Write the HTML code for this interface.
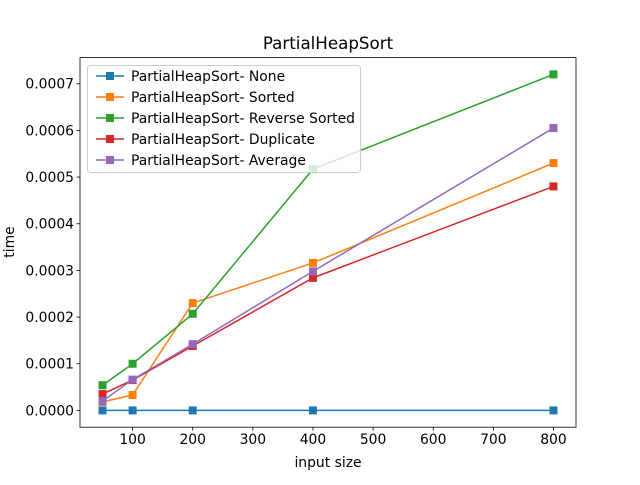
<!DOCTYPE html>
<html><head><meta charset="utf-8"><style>
body{margin:0;background:#fff}
svg{font-family:"DejaVu Sans","Liberation Sans",sans-serif}
</style></head><body>
<svg id="chart" width="640" height="480" xmlns="http://www.w3.org/2000/svg">
<rect width="640" height="480" fill="#fff"/>
<text x="328" y="49" font-size="16.7" text-anchor="middle">PartialHeapSort</text>
<g id="plot"></g>
<rect x="80" y="57.6" width="496" height="369.6" fill="none" stroke="#000" stroke-width="0.8"/>
<text x="328" y="467" font-size="13.9" text-anchor="middle">input size</text>
<text transform="translate(14,242) rotate(-90)" font-size="13.9" text-anchor="middle">time</text>
<g id="legend"></g>
</svg>
<script>
const xCats=[50,100,200,400,800];
const seriesNames=["PartialHeapSort- None","PartialHeapSort- Sorted","PartialHeapSort- Reverse Sorted","PartialHeapSort- Duplicate","PartialHeapSort- Average"];
const sNone=[0,0,0,0,0];
const sSorted=[0.000018,0.000033,0.00023,0.000316,0.00053];
const sReverse=[0.000054,0.0001,0.000207,0.000517,0.00072];
const sDuplicate=[0.000035,0.000065,0.000138,0.000284,0.00048];
const sAverage=[0.00002,0.000066,0.000142,0.000298,0.000605];
const xTicks=[100,200,300,400,500,600,700,800];
const yTicks=[0,0.0001,0.0002,0.0003,0.0004,0.0005,0.0006,0.0007];
const yTickLabels=["0.0000","0.0001","0.0002","0.0003","0.0004","0.0005","0.0006","0.0007"];
const colors=["#1f77b4","#ff7f0e","#2ca02c","#d62728","#9467bd"];
const all=[sNone,sSorted,sReverse,sDuplicate,sAverage];
const NS="http://www.w3.org/2000/svg";
const L=80,R=576,T=57.6,B=427.2;
const xmin=Math.min(...xCats),xmax=Math.max(...xCats),xp=(xmax-xmin)*0.05;
const ymaxD=Math.max(...all.flat()),yminD=Math.min(...all.flat()),yp=(ymaxD-yminD)*0.05;
const X=v=>L+(v-(xmin-xp))/((xmax+xp)-(xmin-xp))*(R-L);
const Y=v=>B-(v-(yminD-yp))/((ymaxD+yp)-(yminD-yp))*(B-T);
function mk(tag,attrs,parent){const e=document.createElementNS(NS,tag);for(const k in attrs)e.setAttribute(k,attrs[k]);parent.appendChild(e);return e;}
const svg=document.getElementById('chart');
const plot=document.getElementById('plot');
xTicks.forEach(t=>{
  const l=mk('line',{x1:X(t),x2:X(t),y1:B,y2:B+3.5,stroke:'#000','stroke-width':0.8},svg);
  
  
  const tx=mk('text',{x:X(t),y:B+17,'font-size':13.9,'text-anchor':'middle'},svg);tx.textContent=t;
  
  
});
yTicks.forEach((t,i)=>{
  const l=mk('line',{x1:L-3.5,x2:L,y1:Y(t),y2:Y(t),stroke:'#000','stroke-width':0.8},svg);
  
  
  const tx=mk('text',{x:L-6,y:Y(t)+5,'font-size':13.9,'text-anchor':'end'},svg);tx.textContent=yTickLabels[i];
  
  
});
all.forEach((s,si)=>{
  const g=mk('g',{},plot);
  
  
  const pl=mk('polyline',{points:s.map((v,i)=>X(xCats[i])+','+Y(v)).join(' '),fill:'none',stroke:colors[si],'stroke-width':1.5},g);
  
  
  s.forEach((v,i)=>{
    const r=mk('rect',{x:X(xCats[i])-4,y:Y(v)-4,width:8,height:8,fill:colors[si]},g);
    
    
  });
});
const lg=document.getElementById('legend');


mk('rect',{x:87.5,y:65.5,width:273,height:107,rx:3,fill:'#fff','fill-opacity':0.8,stroke:'#ccc'},lg);
seriesNames.forEach((n,i)=>{
  const y=76+i*21;
  const g=mk('g',{},lg);
  
  
  mk('line',{x1:96,x2:124,y1:y,y2:y,stroke:colors[i],'stroke-width':1.5},g);
  mk('rect',{x:106,y:y-4,width:8,height:8,fill:colors[i]},g);
  const t=mk('text',{x:131,y:y+5,'font-size':13.9},g);t.textContent=n;
});
</script>
</body></html>
